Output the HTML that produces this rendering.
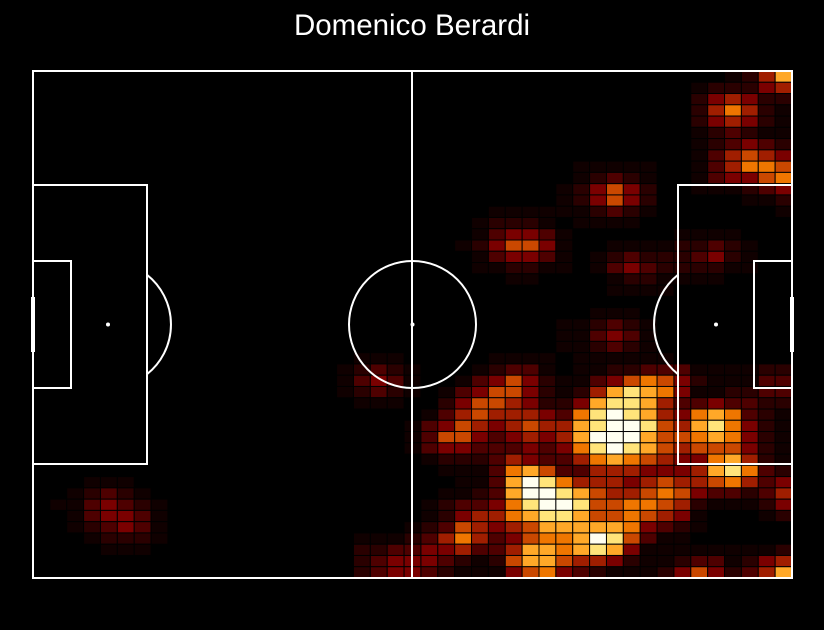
<!DOCTYPE html>
<html><head><meta charset="utf-8"><style>
html,body{margin:0;padding:0;background:#000;width:824px;height:630px;overflow:hidden}
</style></head><body>
<svg id="chart" width="824" height="630" viewBox="0 0 824 630" xmlns="http://www.w3.org/2000/svg">
<rect x="0" y="0" width="824" height="630" fill="#000"/>
<text x="412" y="35" text-anchor="middle" fill="#fff" font-family="Liberation Sans, sans-serif" font-size="29.5">Domenico Berardi</text>
<g id="cells"></g>
<g fill="none" stroke="#fff" stroke-width="2">
<rect x="33" y="71" width="759" height="507"/>
<line x1="412" y1="71" x2="412" y2="578"/>
<circle cx="412.5" cy="324.5" r="63.5"/>
<rect x="33" y="185" width="114" height="279"/>
<rect x="33" y="261" width="38" height="127"/>
<rect x="678" y="185" width="114" height="279"/>
<rect x="754" y="261" width="38" height="127"/>
<path d="M147 274.8 A63.5 63.5 0 0 1 147 374.2"/>
<path d="M678 274.8 A63.5 63.5 0 0 0 678 374.2"/>
</g>
<rect x="31" y="297" width="4" height="55" fill="#fff"/>
<rect x="790" y="297" width="4" height="55" fill="#fff"/>
<circle cx="108" cy="324.5" r="2" fill="#fff"/>
<circle cx="716" cy="324.5" r="2" fill="#fff"/>
<circle cx="412.5" cy="324.5" r="2" fill="#fff"/>
</svg>
<script>
// heatmap data: 45 rows x 45 columns, levels 0-9 and a(=10)
const gridColsLeft = [ // cols 0-17
"000000000000000000","000000000000000000","000000000000000000","000000000000000000","000000000000000000",
"000000000000000000","000000000000000000","000000000000000000","000000000000000000","000000000000000000",
"000000000000000000","000000000000000000","000000000000000000","000000000000000000","000000000000000000",
"000000000000000000","000000000000000000","000000000000000000","000000000000000000","000000000000000000",
"000000000000000000","000000000000000000","000000000000000000","000000000000000000","000000000000000000",
"000000000000000000","000000000000000000","000000000000000000","000000000000000000","000000000000000000",
"000000000000000000","000000000000000000","000000000000000000","000000000000000000","000000000000000000",
"000000000000000000","000111000000000000","001232100000000000","011343210000000000","001344310000000000",
"001234310000000000","000122210000000000","000011100000000000","000000000000000000","000000000000000000"];
const gridColsMid = [ // cols 18-30
"0000000000000","0000000000000","0000000000000","0000000000000","0000000000000",
"0000000000000","0000000000000","0000000000000","0000000000000","0000000000000",
"0000000000000","0000000000000","0000000001111","0000000012221","0000000013443",
"0000000124664","0000000013443","0000000011221","0000000000110","0000000000000",
"0000000000000","0000000000000","0000000000000","0000000000000","0000000000000",
"0111000001111","1232100012331","1343100134642","1232101346642","0111002466542",
"0000013565554","0000134654565","0000136643454","0000134433343","0000012223543",
"0000001113786","00000001138a9","00000011238aa","000001233479a","0000012455789",
"0000123654568","0111235753467","0223344533588","0234443212688","0234432111467"];
const gridColsRight = [ // cols 31-44
"00000000001258","00000000122245","00000000245422","00000000257521","00000000245421",
"00000000123211","00000000123432","00000000135654","01111100135776","01232100134467",
"12464200111234","12464200000112","11232100000001","01111000000000","10000001111000",
"10011112232100","10123222342100","10134322221100","00012211110000","00011110000000",
"00000000000000","00111000000000","11232100000000","11343100000000","11232100000000",
"01111110000000","01122333111122","11346764211133","12589874112233","24899853343322",
"379a9854787321","589aa965897421","58aaa866787421","479a9865666421","35787654478521",
"33555444589732","75554565567534","98655676433235","a9667765211124","98667654100012",
"88887432100000","78a96311000000","78984111111112","65542112331245","43211124642358"];
const levelColors = ["#000000","#100000","#2a0000","#4e0000","#7a0000","#a01e00","#ca4800","#ef7600","#ffa828","#ffe47a","#fffff0"];

const NCOLS = 45, NROWS = 45;
const X0 = 33, X1 = 792, Y0 = 71, Y1 = 578;
function xScale(c){ return X0 + c * (X1 - X0) / NCOLS; }
function yScale(r){ return Y0 + r * (Y1 - Y0) / NROWS; }
const g = document.getElementById('cells');
const NS = 'http://www.w3.org/2000/svg';
for (let r = 0; r < NROWS; r++) {
  const row = gridColsLeft[r] + gridColsMid[r] + gridColsRight[r];
  for (let c = 0; c < NCOLS; c++) {
    const v = parseInt(row[c], 16) || 0;
    if (v === 0) continue;
    const rect = document.createElementNS(NS, 'rect');
    rect.setAttribute('x', xScale(c));
    rect.setAttribute('y', yScale(r));
    rect.setAttribute('width', xScale(c + 1) - xScale(c));
    rect.setAttribute('height', yScale(r + 1) - yScale(r));
    rect.setAttribute('fill', levelColors[Math.min(v, 10)]);
    rect.setAttribute('stroke', '#000');
    rect.setAttribute('stroke-width', '1');
    
    
    g.appendChild(rect);
  }
}
</script>
</body></html>
